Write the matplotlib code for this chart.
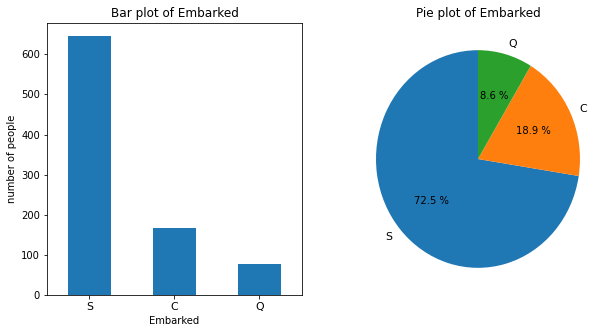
import matplotlib
matplotlib.use('Agg')
import matplotlib.pyplot as plt
import numpy as np

## Embarked counts (Titanic)
ports = ['S', 'C', 'Q']
counts = [646, 168, 77]
pie_colors = ['#1f77b4', '#ff7f0e', '#2ca02c']

fig = plt.figure(figsize=(615/72, 333/72), dpi=72)

## Bar plot
ax1 = fig.add_axes([0.0764, 0.114, 0.4146, 0.817])
x = np.arange(len(ports))
ax1.bar(x, counts, width=0.5, color='#1f77b4')
ax1.set_xticks(x)
ax1.set_xticklabels(ports, fontsize=11)
ax1.set_xlim(-0.5, 2.5)
ax1.set_ylim(0, max(counts) * 1.05)
ax1.set_xlabel('Embarked')
ax1.set_ylabel('number of people')
ax1.set_title('Bar plot of Embarked')

## Pie plot (not forced to equal aspect, like the original)
ax2 = fig.add_axes([350.5/615, 0.114, 0.4146, 0.817])
wedges, texts, autotexts = ax2.pie(counts, labels=ports, colors=pie_colors,
                                   autopct='%.1f %%', startangle=90)
for t in texts:
    t.set_fontsize(11)
ax2.set_aspect('auto')
ax2.set_xlim(-1.25, 1.25)
ax2.set_ylim(-1.25, 1.25)
ax2.set_title('Pie plot of Embarked')

fig.savefig('out.png', dpi=72)
